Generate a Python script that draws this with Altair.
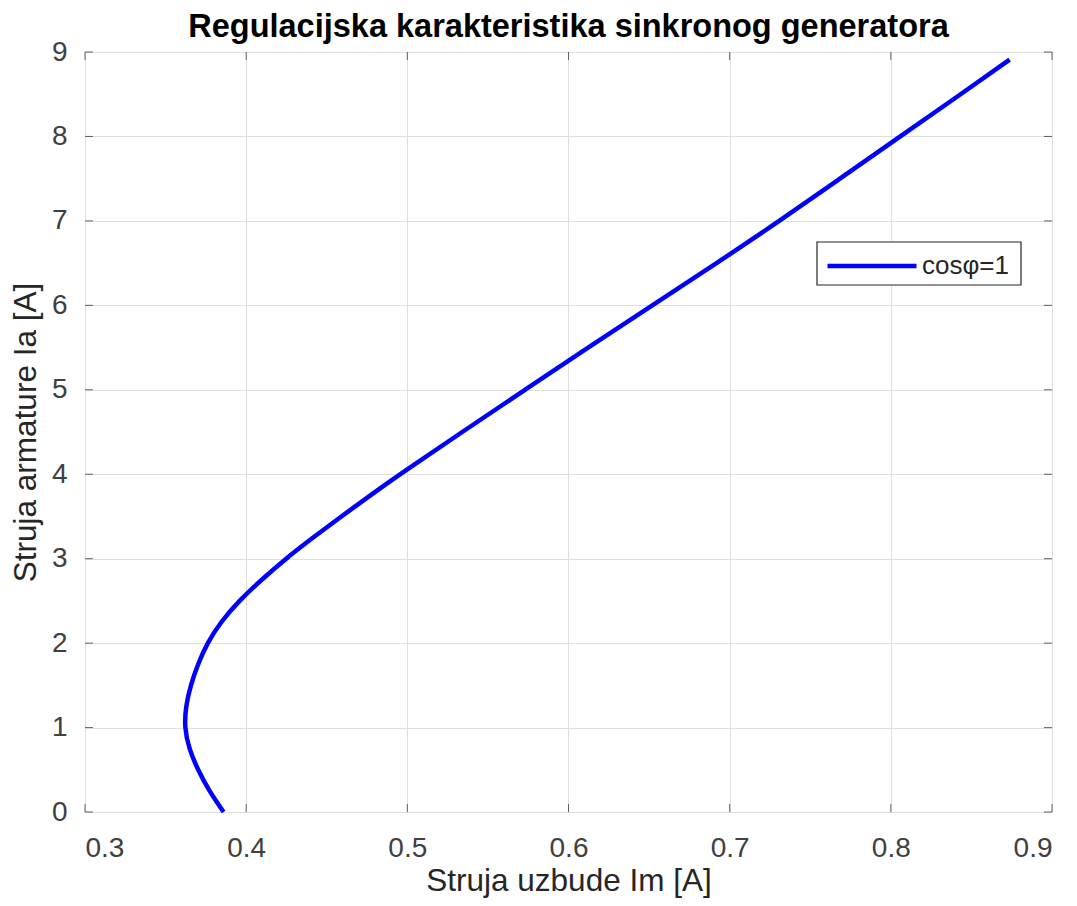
import altair as alt
import pandas as pd

# Data
ia = [0.0, 0.25, 0.5, 0.75, 1.0, 1.25, 1.5, 1.75, 2.0, 2.25, 2.5, 2.75, 3.0, 3.25, 3.5,
      3.75, 4.0, 4.5, 5.0, 5.5, 6.0, 6.5, 7.0, 7.5, 8.0, 8.5, 8.91]
im = [0.386, 0.377, 0.370, 0.3645, 0.3617, 0.3625, 0.3655, 0.370, 0.3758, 0.3842, 0.3955,
      0.4095, 0.4245, 0.4415, 0.459, 0.477, 0.4955, 0.534, 0.573, 0.612, 0.652, 0.692,
      0.731, 0.7684, 0.8059, 0.8434, 0.8737]
series_name = "cosφ=1"

x_ticks = [0.3, 0.4, 0.5, 0.6, 0.7, 0.8, 0.9]
y_ticks = [0, 1, 2, 3, 4, 5, 6, 7, 8, 9]

df = pd.DataFrame({"Im": im, "Ia": ia, "s": [series_name] * len(ia), "o": list(range(len(ia)))})
xt = pd.DataFrame({"v": x_ticks})
yt = pd.DataFrame({"v": y_ticks})

FONT = "Liberation Sans"
TXT = "#262626"
W, H = 967, 760

xscale = alt.Scale(domain=[0.3, 0.9], nice=False, zero=False)
yscale = alt.Scale(domain=[0, 9], nice=False, zero=False)

# legend frame (drawn under the legend entry)
legend_box = alt.Chart(pd.DataFrame({"k": [0]})).mark_rect(
    fill="white", stroke="#262626", strokeWidth=1.2).encode(
    x=alt.value(732), x2=alt.value(936), y=alt.value(190), y2=alt.value(233))

line = alt.Chart(df).mark_line(strokeWidth=4.5, interpolate="basis").encode(
    x=alt.X("Im:Q", scale=xscale, title="Struja uzbude Im [A]",
            axis=alt.Axis(values=x_ticks, format=".1f", grid=True, gridColor="#dfdfdf",
                          tickSize=0, domain=False, labelPadding=22, labelFontSize=28,
                          labelColor="#404040", titleFontSize=31.5, titleFontWeight="normal",
                          titleColor=TXT, titlePadding=3, labelFont=FONT, titleFont=FONT)),
    y=alt.Y("Ia:Q", scale=yscale, title="Struja armature Ia [A]",
            axis=alt.Axis(values=y_ticks, format="d", grid=True, gridColor="#dfdfdf",
                          tickSize=0, domain=False, labelPadding=18, labelFontSize=28,
                          labelColor="#404040", titleFontSize=31.5, titleFontWeight="normal",
                          titleColor=TXT, titlePadding=9, labelFont=FONT, titleFont=FONT)),
    order="o:Q",
    color=alt.Color("s:N", scale=alt.Scale(range=["#0000ff"]),
                    legend=alt.Legend(title=None, orient="none", legendX=740, legendY=167,
                                      symbolType="stroke", symbolSize=7921,
                                      symbolStrokeWidth=4.5, labelFontSize=26,
                                      labelFont=FONT, labelColor=TXT,
                                      padding=0, labelOffset=3)),
)

# inward tick marks on all four sides (MATLAB style box)
tb = alt.Chart(xt).mark_tick(color=TXT, size=8, thickness=1, yOffset=-4).encode(
    x=alt.X("v:Q", scale=xscale), y=alt.value(H))
tt = alt.Chart(xt).mark_tick(color=TXT, size=8, thickness=1, yOffset=4).encode(
    x=alt.X("v:Q", scale=xscale), y=alt.value(0))
tl = alt.Chart(yt).mark_tick(color=TXT, size=8, thickness=1, xOffset=4).encode(
    y=alt.Y("v:Q", scale=yscale), x=alt.value(0))
tr = alt.Chart(yt).mark_tick(color=TXT, size=8, thickness=1, xOffset=-4).encode(
    y=alt.Y("v:Q", scale=yscale), x=alt.value(W))

chart = alt.layer(legend_box, line, tb, tt, tl, tr).properties(
    width=W, height=H,
    title=alt.Title("Regulacijska karakteristika sinkronog generatora", font=FONT,
                    fontSize=32.5, fontWeight="bold", color="black", offset=-5,
                    frame="group"),
    autosize=alt.AutoSizeParams(type="none"),
    padding={"left": 77, "top": 44, "right": 17, "bottom": 86},
).configure_view(stroke="#262626", strokeWidth=1.2).configure(background="white")

chart.save("out.html", embed_options={"renderer": "svg", "actions": False})
